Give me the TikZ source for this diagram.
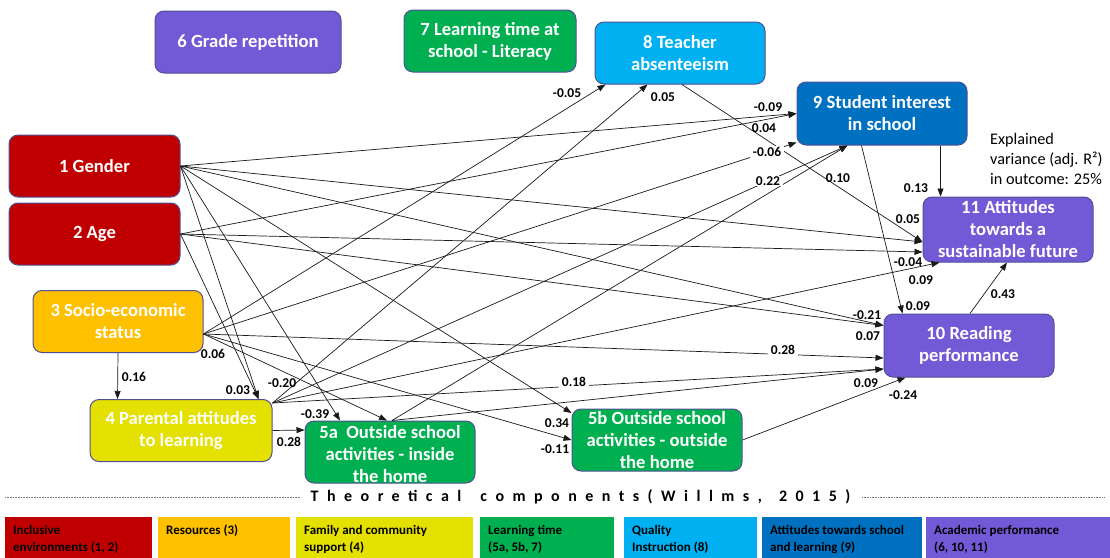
\documentclass[tikz,border=0pt]{standalone}
\usepackage{fontspec}
\setmainfont{Carlito}
\usetikzlibrary{arrows.meta,calc}
\definecolor{cRed}{HTML}{C00000}
\definecolor{cOrange}{HTML}{FFC000}
\definecolor{cYellow}{RGB}{228,224,0}
\definecolor{cGreen}{HTML}{00B050}
\definecolor{cLBlue}{HTML}{00B0F0}
\definecolor{cBlue}{HTML}{0070C0}
\definecolor{cPurple}{RGB}{114,89,214}
\definecolor{cBorder}{RGB}{80,80,150}
\begin{document}
\begin{tikzpicture}[x=1pt,y=-1pt,
  box/.style={draw=cBorder, line width=1pt, rounded corners=9pt, minimum width=170pt,
    minimum height=62pt, inner sep=0pt, text=white, align=center,
    font=\fontsize{18.6}{22}\selectfont\bfseries},
  edge/.style={-{Triangle[length=8pt,width=6pt]}, line width=0.7pt, draw=black!90},
  lab/.style={font=\fontsize{13.5}{15}\selectfont\bfseries, inner sep=1pt, text=black},
  labw/.style={lab, fill=white, inner xsep=3pt},
  legbox/.style={minimum height=42pt, inner sep=0pt, anchor=north west},
  legtext/.style={anchor=north west, inner sep=0pt, align=left, text=black,
    font=\fontsize{13}{17}\selectfont\bfseries},
]
\useasboundingbox (0,0) rectangle (1110,557);

% ---------- nodes ----------
\node[box, fill=cPurple, minimum width=186pt] (n6) at (248,42) {6 Grade repetition};
\node[box, fill=cGreen, minimum width=172pt] (n7) at (490,41) {7 Learning time at\\school - Literacy};
\node[box, fill=cLBlue] (n8) at (680,53) {8 Teacher\\absenteeism};
\node[box, fill=cBlue, minimum height=63pt] (n9) at (882,113.5) {9 Student interest\\in school};
\node[box, fill=cRed, minimum width=171pt] (n1) at (94.5,166) {1 Gender};
\node[box, fill=cRed, minimum width=171pt] (n2) at (94.5,234) {2 Age};
\node[box, fill=cPurple, minimum height=65pt] (n11) at (1008,229.5) {11 Attitudes\\towards a\\sustainable future};
\node[box, fill=cOrange] (n3) at (118,321.5) {3 Socio-economic\\status};
\node[box, fill=cPurple, minimum height=63pt] (n10) at (969,345.5) {10 Reading\\performance};
\node[box, fill=cYellow, minimum width=182pt] (n4) at (181,430.5) {4 Parental attitudes\\to learning};
\node[box, fill=cGreen] (n5a) at (390,452) {};
\node[box, draw=none, fill=none] (t5a) at (390,454) {5a\ \ Outside school\\activities - inside\\the home};
\node[box, fill=cGreen] (n5b) at (657,440) {5b Outside school\\activities - outside\\the home};

% ---------- ports ----------
\coordinate (S) at ($(n3.east)+(0,12.5)$);
\coordinate (P) at ($(n4.north east)+(0,4)$);
\coordinate (n5ain1) at ($(n5a.north)+(-50,0)$);
\coordinate (F) at ($(n5a.north)+(2,0)$);
\coordinate (n5ain2) at ($(n5a.north)+(-3,0)$);
\coordinate (n5ainL) at ($(n5a.west)+(0,-22)$);
\coordinate (n5bin1) at ($(n5b.west)+(0,-27)$);
\coordinate (n5bin2) at (n5b.west);
\coordinate (n8in1) at ($(n8.south west)+(11,0)$);
\coordinate (n8in2) at ($(n8.south west)+(53,0)$);
\coordinate (n8out) at ($(n8.south)+(2,0)$);
\coordinate (n9in1) at (n9.west);
\coordinate (n9in2) at ($(n9.south west)+(0,-3)$);
\coordinate (n9in3) at ($(n9.south west)+(51,0)$);
\coordinate (n9out1) at ($(n9.south west)+(65,0)$);
\coordinate (n9out2) at ($(n9.south west)+(144,0)$);
\coordinate (n10in1) at ($(n10.north west)+(0,12)$);
\coordinate (n10in2) at ($(n10.west)+(0,12.5)$);
\coordinate (n10in3) at ($(n10.west)+(0,23.5)$);
\coordinate (n10in4) at ($(n10.south west)+(22,0)$);
\coordinate (n10in5) at ($(n10.north west)+(19,0)$);
\coordinate (n10out) at ($(n10.north)+(1,0)$);
\coordinate (n11in1) at ($(n11.west)+(0,12.5)$);
\coordinate (n11in2) at ($(n11.west)+(0,22.5)$);
\coordinate (n11in3) at ($(n11.south west)+(17,0)$);
\coordinate (n11in4) at ($(n11.north west)+(18,0)$);
\coordinate (n11in5) at ($(n11.south)+(-1,0)$);
\coordinate (n4in1) at ($(n4.north east)+(-14,0)$);
\coordinate (n4in2) at ($(n4.north west)+(28,0)$);

% ---------- edges ----------
\draw[edge] (n1.east) -- (n9in1);
\draw[edge] (n2.east) -- (n9in1);
\draw[edge] (S) -- (n9in2);
\draw[edge] (P) -- (n9in3);
\draw[edge] (F) -- (n9in3);
\draw[edge] (n1.east) -- (n10in1);
\draw[edge] (n2.east) -- (n10in1);
\draw[edge] (S) -- (n10in2);
\draw[edge] (P) -- (n10in3);
\draw[edge] (F) -- (n10in3);
\draw[edge] (n5b.east) -- (n10in4);
\draw[edge] (n9out1) -- (n10in5);
\draw[edge] (n1.east) -- (n11in1);
\draw[edge] (n8out) -- (n11in1);
\draw[edge] (n2.east) -- (n11in2);
\draw[edge] (P) -- (n11in3);
\draw[edge] (n9out2) -- (n11in4);
\draw[edge] (n10out) -- (n11in5);
\draw[edge] (S) -- (n8in1);
\draw[edge] (P) -- (n8in2);
\draw[edge] (n1.east) -- (n4in1);
\draw[edge] (n2.east) -- (n4in1);
\draw[edge] (n3.south) -- (n4in2);
\draw[edge] (n4.east) -- (n5ainL);
\draw[edge] (n1.east) -- (n5ain1);
\draw[edge] (S) -- (n5ain2);
\draw[edge] (n1.east) -- (n5bin1);
\draw[edge] (S) -- (n5bin2);

% ---------- labels ----------
\node[lab] (l1) at (567,93) {-0.05};
\node[lab] (l2) at (663,97) {0.05};
\node[lab] (l3) at (768,107) {-0.09};
\node[lab] (l4) at (764,128) {0.04};
\node[labw] (l5) at (767,152) {-0.06};
\node[labw] (l6) at (768,181) {0.22};
\node[lab] (l7) at (838,178) {0.10};
\node[lab] (l8) at (916,188) {0.13};
\node[lab] (l9) at (908,219) {0.05};
\node[lab] (l10) at (908,262) {-0.04};
\node[lab] (l11) at (921,280) {0.09};
\node[lab] (l12) at (1003,294) {0.43};
\node[lab] (l13) at (918,306) {0.09};
\node[lab] (l14) at (867,315) {-0.21};
\node[lab] (l15) at (868,336) {0.07};
\node[labw] (l16) at (783,350) {0.28};
\node[labw] (l17) at (574,382) {0.18};
\node[lab] (l18) at (866,383) {0.09};
\node[lab] (l19) at (903,395) {-0.24};
\node[lab] (l20) at (557,423) {0.34};
\node[lab] (l21) at (555,449) {-0.11};
\node[lab] (l22) at (213,354) {0.06};
\node[lab] (l23) at (134,377) {0.16};
\node[lab] (l24) at (238,390) {0.03};
\node[lab] (l25) at (282,383) {-0.20};
\node[lab] (l26) at (315,414) {-0.39};
\node[lab] (l27) at (289,442) {0.28};

% ---------- explained variance ----------
\node[anchor=north west, inner sep=0pt, align=left, font=\fontsize{16.2}{20}\selectfont] (ev) at (990,133)
  {Explained\\variance (adj. R²)\\in outcome: 25\%};

% ---------- legend ----------
\draw[densely dotted, line width=0.6pt, black!55] (5,497) -- (300,497);
\draw[densely dotted, line width=0.6pt, black!55] (862,497) -- (1105,497);
\node[inner sep=0pt, font=\fontsize{16}{18}\selectfont\bfseries] (title) at (580.5,497)
  {\addfontfeature{LetterSpace=53}Theoretical\hspace{7pt} components(Willms,\hspace{5pt} 2015)};

\node[legbox, fill=cRed, minimum width=147pt] (g1) at (5,517) {};
\node[legbox, fill=cOrange, minimum width=132pt] (g2) at (158,517) {};
\node[legbox, fill=cYellow, minimum width=177pt] (g3) at (296,517) {};
\node[legbox, fill=cGreen, minimum width=134pt] (g4) at (480,517) {};
\node[legbox, fill=cLBlue, minimum width=133pt] (g5) at (624,517) {};
\node[legbox, fill=cBlue, minimum width=160pt] (g6) at (762,517) {};
\node[legbox, fill=cPurple, minimum width=184pt] (g7) at (926,517) {};
\node[legtext] (h1) at ($(g1.north west)+(8,8)$) {Inclusive\\environments (1, 2)};
\node[legtext] (h2) at ($(g2.north west)+(8,8)$) {Resources (3)};
\node[legtext] (h3) at ($(g3.north west)+(8,8)$) {Family and community\\support (4)};
\node[legtext] (h4) at ($(g4.north west)+(8,8)$) {Learning time\\(5a, 5b, 7)};
\node[legtext] (h5) at ($(g5.north west)+(8,8)$) {Quality\\Instruction (8)};
\node[legtext] (h6) at ($(g6.north west)+(8,8)$) {Attitudes towards school\\and learning (9)};
\node[legtext] (h7) at ($(g7.north west)+(8,8)$) {Academic performance\\(6, 10, 11)};
\end{tikzpicture}
\end{document}
